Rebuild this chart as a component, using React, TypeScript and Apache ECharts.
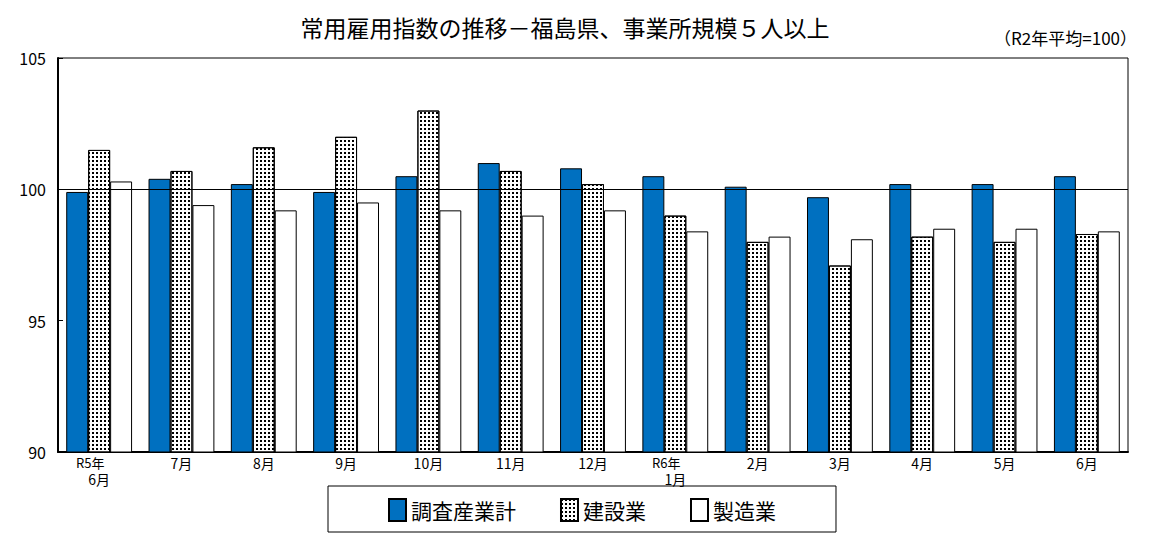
import React, { useEffect, useRef } from 'react';
import * as echarts from 'echarts';

const categories = ['R5年\n6月', '7月', '8月', '9月', '10月', '11月', '12月', 'R6年\n1月', '2月', '3月', '4月', '5月', '6月'];
const surveyTotal = [99.9, 100.4, 100.2, 99.9, 100.5, 101.0, 100.8, 100.5, 100.1, 99.7, 100.2, 100.2, 100.5];
const construction = [101.5, 100.7, 101.6, 102.0, 103.0, 100.7, 100.2, 99.0, 98.0, 97.1, 98.2, 98.0, 98.3];
const manufacturing = [100.3, 99.4, 99.2, 99.5, 99.2, 99.0, 99.2, 98.4, 98.2, 98.1, 98.5, 98.5, 98.4];

const font = '"Noto Sans CJK JP", sans-serif';

const App: React.FC = () => {
  const chartRef = useRef<HTMLDivElement | null>(null);

  useEffect(() => {
    if (!chartRef.current) return;
    const chart = echarts.init(chartRef.current, null, { renderer: 'svg' });

    const barStyle = { borderColor: '#000', borderWidth: 1 };

    chart.setOption({
      animation: false,
      textStyle: { fontFamily: font },
      title: [
        {
          text: '常用雇用指数の推移－福島県、事業所規模５人以上',
          left: 552,
          textAlign: 'center',
          top: 2,
          textStyle: { fontSize: 23, fontWeight: 'normal', color: '#000', fontFamily: font },
        },
        {
          text: '（R2年平均=100）',
          right: 8,
          top: 16,
          textStyle: { fontSize: 17, fontWeight: 'normal', color: '#000', fontFamily: font },
        },
      ],
      legend: {
        left: 320,
        top: 478,
        width: 554,
        height: 46,
        padding: [12, 60, 10, 60],
        itemGap: 44,
        borderColor: '#000',
        borderWidth: 1,
        icon: 'rect',
        itemWidth: 17,
        itemHeight: 22,
        textStyle: { fontSize: 21, color: '#000', fontFamily: font },
        data: ['調査産業計', '建設業', '製造業'],
      },
      grid: { left: 50, right: 22, top: 50, bottom: 98, show: true, borderColor: '#000', borderWidth: 1 },
      xAxis: {
        type: 'category',
        data: categories,
        axisLine: { lineStyle: { color: '#000', width: 2 } },
        axisTick: { inside: true, length: 4, lineStyle: { color: '#000' } },
        axisLabel: {
          color: '#000',
          fontSize: 14,
          margin: 2,
          formatter: (v: string) => {
            const parts = v.split('\n');
            return parts.length > 1 ? `{y|${parts[0]}}\n{m|${parts[1]}}` : `{m|${v}}`;
          },
          rich: {
            y: { fontSize: 13, lineHeight: 16, padding: [0, 18, 0, 0], color: '#000' },
            m: { fontSize: 14, lineHeight: 18, color: '#000' },
          },
        },
      },
      yAxis: {
        type: 'value',
        min: 90,
        max: 105,
        interval: 5,
        splitLine: { show: false },
        axisLine: { show: true, lineStyle: { color: '#000', width: 2 } },
        axisTick: { show: true, inside: true, length: 5, lineStyle: { color: '#000' } },
        axisLabel: { color: '#000', fontSize: 16, margin: 12 },
      },
      series: [
        {
          name: '調査産業計',
          type: 'bar',
          data: surveyTotal,
          barGap: '0%',
          barCategoryGap: '20%',
          itemStyle: { ...barStyle, color: '#0070c0' },
          markLine: {
            silent: true,
            symbol: 'none',
            label: { show: false },
            lineStyle: { color: '#000', width: 1, type: 'solid' },
            data: [{ yAxis: 100 }],
          },
        },
        {
          name: '建設業',
          type: 'bar',
          data: construction,
          itemStyle: {
            ...barStyle,
            color: '#fff',
            decal: {
              symbol: 'rect',
              symbolSize: 1,
              color: '#000',
              dashArrayX: [[2, 2]],
              dashArrayY: [2, 2],
              rotation: 0,
            },
          },
        },
        {
          name: '製造業',
          type: 'bar',
          data: manufacturing,
          itemStyle: { ...barStyle, color: '#fff' },
        },
      ],
    });

    return () => chart.dispose();
  }, []);

  return <div ref={chartRef} style={{ width: 1142, height: 542 }} />;
};

export default App;
